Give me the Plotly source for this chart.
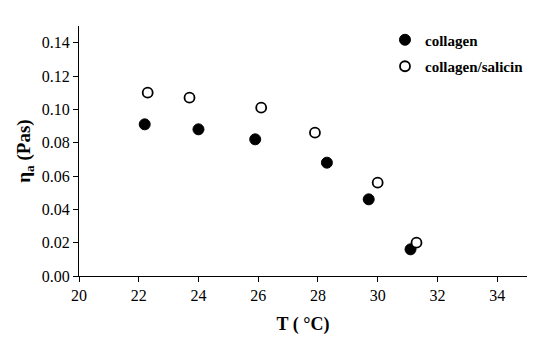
import plotly.graph_objects as go

# Data
t_collagen = [22.2, 24.0, 25.9, 28.3, 29.7, 31.1]
eta_collagen = [0.091, 0.088, 0.082, 0.068, 0.046, 0.016]
t_salicin = [22.3, 23.7, 26.1, 27.9, 30.0, 31.3]
eta_salicin = [0.110, 0.107, 0.101, 0.086, 0.056, 0.020]

x_ticks = [20, 22, 24, 26, 28, 30, 32, 34]
y_ticks = [0.00, 0.02, 0.04, 0.06, 0.08, 0.10, 0.12, 0.14]

serif = "Liberation Serif"

fig = go.Figure()
fig.add_trace(go.Scatter(
    x=t_collagen, y=eta_collagen, mode="markers", name="<b>collagen</b>",
    legendgroup="a",
    marker=dict(symbol="circle", size=11, color="black", line=dict(color="black", width=1)),
))
fig.add_trace(go.Scatter(
    x=t_salicin, y=eta_salicin, mode="markers", name="<b>collagen/salicin</b>",
    legendgroup="b",
    marker=dict(symbol="circle", size=10, color="white", line=dict(color="black", width=1.8)),
))

fig.update_layout(
    width=550, height=346,
    margin=dict(l=79, r=23, t=26, b=70),
    plot_bgcolor="white", paper_bgcolor="white",
    font=dict(family=serif, size=16, color="black"),
    showlegend=True,
    legend=dict(x=0.683, y=1.01, xanchor="left", yanchor="top",
                font=dict(family=serif, size=15, color="black"),
                bgcolor="rgba(0,0,0,0)", itemwidth=30,
                traceorder="grouped", tracegroupgap=4),
    xaxis=dict(
        range=[20, 35], tickvals=x_ticks, ticktext=[str(v) for v in x_ticks],
        showgrid=False, zeroline=False, showline=True, linecolor="black", linewidth=1.2,
        ticks="outside", ticklen=5, tickcolor="black", tickwidth=1.2, automargin=False,
        tickfont=dict(family=serif, size=16, color="black"),
        title=dict(text="<b>T ( °C)</b>", font=dict(family=serif, size=18), standoff=14),
    ),
    yaxis=dict(
        range=[0, 0.15], tickvals=y_ticks, ticktext=[f"{v:.2f}" for v in y_ticks],
        showgrid=False, zeroline=False, showline=True, linecolor="black", linewidth=1.2,
        ticks="outside", ticklen=5, tickcolor="black", tickwidth=1.2, automargin=False,
        tickfont=dict(family=serif, size=16, color="black"),
        title=dict(text="<b>η<sub>a</sub> (Pas)</b>", font=dict(family=serif, size=19), standoff=6),
    ),
)

fig.write_html(
    "out.html",
    config={"displayModeBar": False},
    post_script="document.body.style.margin='0';document.body.style.overflow='hidden';",
)
